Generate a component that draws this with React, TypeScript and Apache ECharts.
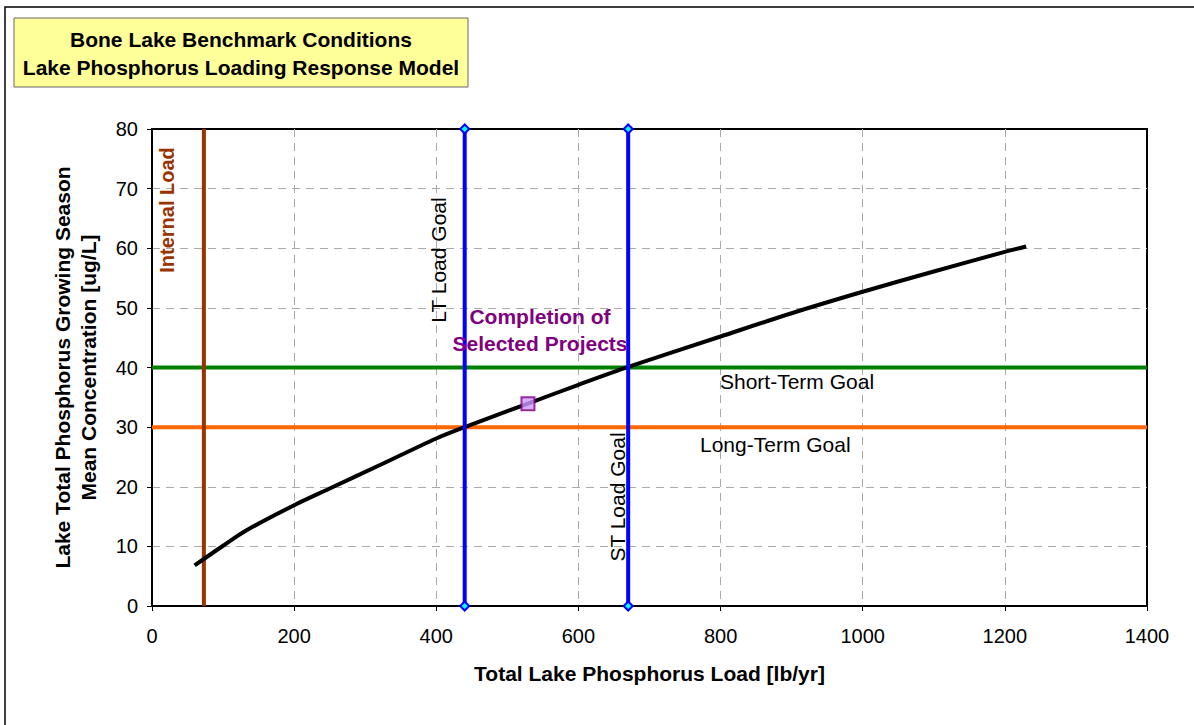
import React, { useEffect, useRef } from "react";
import * as echarts from "echarts";

const curveX = [60, 100, 133, 200, 250, 320, 400, 440, 530, 600, 670, 800, 900, 1000, 1100, 1200, 1230];
const curveY = [6.8, 10.1, 12.7, 16.9, 19.7, 23.6, 28.1, 30.0, 34.0, 37.1, 40.1, 45.2, 49.1, 52.7, 56.1, 59.4, 60.3];
const internalLoadX = 73;
const ltLoadGoalX = 440;
const stLoadGoalX = 670;
const shortTermGoalY = 40;
const longTermGoalY = 30;
const projectPoint = [529, 33.9];
const xTicks = [0, 1400, 200];
const yTicks = [0, 80, 10];

const FONT = "Liberation Sans, Arial, sans-serif";

export default function App() {
  const ref = useRef<HTMLDivElement>(null);
  useEffect(() => {
    document.body.style.margin = "0";
    const chart = echarts.init(ref.current!, null, { renderer: "svg" });
    const curve = curveX.map((x, i) => [x, curveY[i]]);
    chart.setOption({
      animation: false,
      backgroundColor: "#fff",
      textStyle: { fontFamily: FONT },
      grid: {
        left: 152,
        top: 129,
        width: 995,
        height: 477,
        show: true,
        borderColor: "#000",
        borderWidth: 2,
        containLabel: false,
      },
      xAxis: {
        type: "value",
        min: xTicks[0],
        max: xTicks[1],
        interval: xTicks[2],
        name: "Total Lake Phosphorus Load [lb/yr]",
        nameLocation: "middle",
        nameGap: 57,
        nameTextStyle: { fontFamily: FONT, fontSize: 21, fontWeight: "bold", color: "#000" },
        axisLine: { show: true, onZero: false, lineStyle: { color: "#000", width: 2 } },
        axisTick: { show: true, length: 5, lineStyle: { color: "#000" } },
        axisLabel: { fontFamily: FONT, fontSize: 20, color: "#000", margin: 20, formatter: (v: number) => String(v) },
        splitLine: { show: true, showMinLine: false, showMaxLine: false, lineStyle: { color: "#aaa", type: [8, 6], width: 1 } },
      },
      yAxis: {
        type: "value",
        min: yTicks[0],
        max: yTicks[1],
        interval: yTicks[2],
        name: "Lake Total Phosphorus Growing Season\nMean Concentration [ug/L]",
        nameLocation: "middle",
        nameGap: 51,
        nameTextStyle: { fontFamily: FONT, fontSize: 21, fontWeight: "bold", color: "#000", lineHeight: 26 },
        axisLine: { show: true, onZero: false, lineStyle: { color: "#000", width: 2 } },
        axisTick: { show: true, length: 5, lineStyle: { color: "#000" } },
        axisLabel: { fontFamily: FONT, fontSize: 20, color: "#000", margin: 14 },
        splitLine: { show: true, showMinLine: false, showMaxLine: false, lineStyle: { color: "#aaa", type: [8, 6], width: 1 } },
      },
      series: [
        {
          type: "line",
          data: [[0, shortTermGoalY], [1400, shortTermGoalY]],
          showSymbol: false,
          lineStyle: { color: "#008000", width: 4 },
          z: 3,
        },
        {
          type: "line",
          data: [[0, longTermGoalY], [1400, longTermGoalY]],
          showSymbol: false,
          lineStyle: { color: "#FF6600", width: 4 },
          z: 3,
        },
        {
          type: "line",
          data: [[internalLoadX, 0], [internalLoadX, 80]],
          showSymbol: false,
          lineStyle: { color: "#993300", width: 4 },
          z: 4,
        },
        {
          type: "line",
          data: curve,
          showSymbol: false,
          smooth: 0.3,
          lineStyle: { color: "#000", width: 4 },
          z: 5,
        },
        {
          type: "line",
          data: [[ltLoadGoalX, 0], [ltLoadGoalX, 80]],
          symbol: "diamond",
          symbolSize: 9,
          itemStyle: { color: "#00FFFF", borderColor: "#0000FF", borderWidth: 2 },
          lineStyle: { color: "#0000FF", width: 4 },
          clip: false,
          z: 6,
        },
        {
          type: "line",
          data: [[stLoadGoalX, 0], [stLoadGoalX, 80]],
          symbol: "diamond",
          symbolSize: 9,
          itemStyle: { color: "#00FFFF", borderColor: "#0000FF", borderWidth: 2 },
          lineStyle: { color: "#0000FF", width: 4 },
          clip: false,
          z: 6,
        },
        {
          type: "scatter",
          data: [projectPoint],
          symbol: "rect",
          symbolSize: 13,
          itemStyle: { color: "#CC99FF", borderColor: "#800080", borderWidth: 2 },
          z: 7,
        },
      ],
      graphic: [
        {
          type: "rect",
          shape: { x: 5, y: 7, width: 1200, height: 730 },
          style: { fill: "none", stroke: "#000", lineWidth: 1.5 },
          silent: true,
          z: -1,
        },
        {
          type: "rect",
          shape: { x: 14, y: 18, width: 454, height: 69 },
          style: { fill: "#FFFF99", stroke: "#666", lineWidth: 1 },
        },
        {
          type: "text",
          x: 241,
          y: 39,
          style: { text: "Bone Lake Benchmark Conditions", font: `bold 21px ${FONT}`, fill: "#000", align: "center", verticalAlign: "middle" },
        },
        {
          type: "text",
          x: 241,
          y: 67,
          style: { text: "Lake Phosphorus Loading Response Model", font: `bold 21px ${FONT}`, fill: "#000", align: "center", verticalAlign: "middle" },
        },
        {
          type: "text",
          x: 167,
          y: 210,
          rotation: Math.PI / 2,
          style: { text: "Internal Load", font: `bold 20px ${FONT}`, fill: "#993300", align: "center", verticalAlign: "middle" },
          z: 10,
        },
        {
          type: "text",
          x: 438,
          y: 260,
          rotation: Math.PI / 2,
          style: { text: "LT Load Goal", font: `21px ${FONT}`, fill: "#000", align: "center", verticalAlign: "middle" },
          z: 10,
        },
        {
          type: "text",
          x: 617,
          y: 497,
          rotation: Math.PI / 2,
          style: { text: "ST Load Goal", font: `21px ${FONT}`, fill: "#000", align: "center", verticalAlign: "middle" },
          z: 10,
        },
        {
          type: "text",
          x: 540,
          y: 316,
          style: { text: "Completion of", font: `bold 21px ${FONT}`, fill: "#800080", align: "center", verticalAlign: "middle" },
          z: 10,
        },
        {
          type: "text",
          x: 540,
          y: 343,
          style: { text: "Selected Projects", font: `bold 21px ${FONT}`, fill: "#800080", align: "center", verticalAlign: "middle" },
          z: 10,
        },
        {
          type: "text",
          x: 720,
          y: 381,
          style: { text: "Short-Term Goal", font: `21px ${FONT}`, fill: "#000", align: "left", verticalAlign: "middle" },
          z: 10,
        },
        {
          type: "text",
          x: 700,
          y: 444,
          style: { text: "Long-Term Goal", font: `21px ${FONT}`, fill: "#000", align: "left", verticalAlign: "middle" },
          z: 10,
        },
      ],
    });
    return () => chart.dispose();
  }, []);
  return <div ref={ref} style={{ width: 1194, height: 725 }} />;
}
